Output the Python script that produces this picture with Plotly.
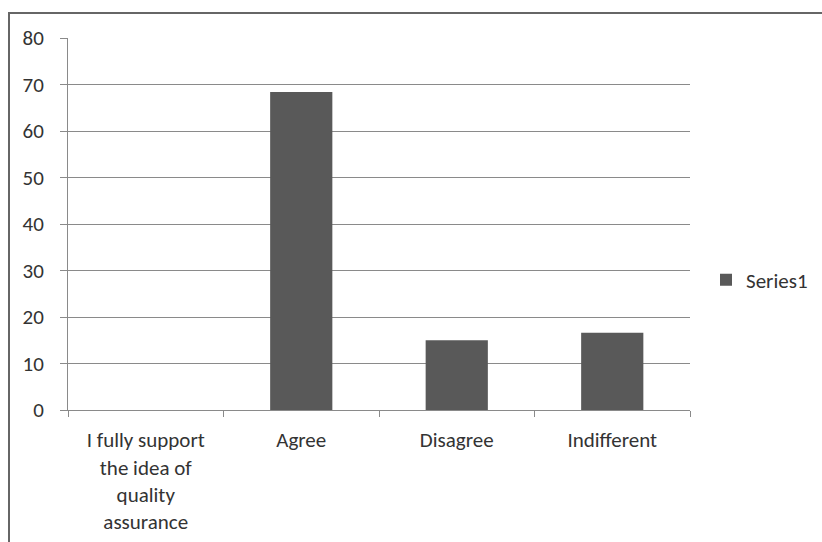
import plotly.graph_objects as go

categories = ["I fully support<br>the idea of<br>quality<br>assurance", "Agree", "Disagree", "Indifferent"]
values = [0, 68.4, 15, 16.6]
series_name = "Series1"
y_ticks = [0, 10, 20, 30, 40, 50, 60, 70, 80]

W, H = 822, 542
L, R, T, B = 68, 690, 38, 410
pw, ph = R - L, B - T

def px_x(x):
    return (x - L) / pw

def px_y(y):
    return (B - y) / ph

fig = go.Figure()
fig.add_trace(go.Bar(
    x=categories, y=values, name=series_name,
    marker=dict(color="#595959", line=dict(width=0)),
    showlegend=True,
))

font_family = "Carlito, Lato, 'Open Sans', sans-serif"
text_color = "#333333"

fig.update_layout(
    width=W, height=H,
    margin=dict(l=L, r=W - R, t=T, b=H - B, pad=0, autoexpand=False),
    paper_bgcolor="white", plot_bgcolor="white",
    font=dict(family=font_family, size=21, color=text_color),
    bargap=0.6,
    showlegend=True,
    legend=dict(
        x=px_x(706), y=px_y(280), xanchor="left", yanchor="middle",
        font=dict(size=21, color=text_color),
        itemwidth=30, bgcolor="rgba(0,0,0,0)",
    ),
    xaxis=dict(
        showline=True, linecolor="#8a8a8a", linewidth=1,
        ticks="outside", ticklen=6, tickcolor="#8a8a8a", tickson="boundaries",
        showgrid=False, tickfont=dict(size=21, color=text_color),
        ticklabelstandoff=11, automargin=False,
        fixedrange=True,
    ),
    yaxis=dict(
        range=[0, 80], tickvals=y_ticks, showline=True, linecolor="#8a8a8a", linewidth=1,
        ticks="outside", ticklen=7, tickcolor="#8a8a8a",
        showgrid=True, gridcolor="#8a8a8a", gridwidth=1,
        zeroline=False, tickfont=dict(size=21, color=text_color),
        ticklabelstandoff=12, automargin=False,
    ),
    shapes=[dict(
        type="rect", xref="paper", yref="paper",
        x0=px_x(9), y0=px_y(600), x1=px_x(900), y1=px_y(13),
        line=dict(color="#666666", width=2), fillcolor="rgba(0,0,0,0)", layer="below",
    )],
)

fig.write_html(
    "out.html",
    config={"displayModeBar": False},
    post_script="document.body.style.margin='0';document.body.style.overflow='hidden';",
)
